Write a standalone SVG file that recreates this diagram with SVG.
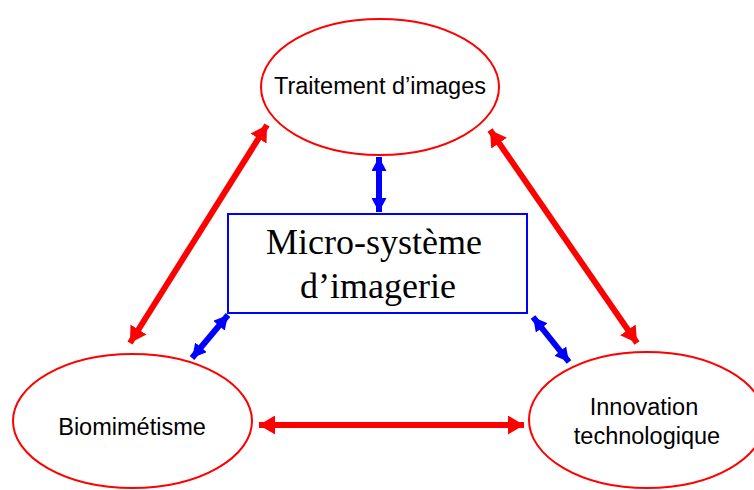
<svg xmlns="http://www.w3.org/2000/svg" width="754" height="490" viewBox="0 0 754 490">
<style>
.ell{fill:#fff;stroke:#f00;stroke-width:2}
.box{fill:#fff;stroke:#00f;stroke-width:2}
.lbl{font-family:"Liberation Sans",Arial,sans-serif;font-size:23.5px;fill:#000;text-anchor:middle}
.big{font-family:"Liberation Serif","Times New Roman",serif;font-size:36px;fill:#000;text-anchor:middle}
.red{stroke:#f00;stroke-width:6;fill:none;marker-start:url(#hr);marker-end:url(#hr)}
.blue{stroke:#00f;stroke-width:6;fill:none;marker-start:url(#hb);marker-end:url(#hb)}
</style>
<defs>
<marker id="hr" markerUnits="userSpaceOnUse" markerWidth="17" markerHeight="19" viewBox="0 0 17 19" refX="16" refY="9.5" orient="auto-start-reverse"><path d="M0,0 L16,9.5 L0,19 Z" fill="#f00"/></marker>
<marker id="hb" markerUnits="userSpaceOnUse" markerWidth="15" markerHeight="15" viewBox="0 0 15 15" refX="14" refY="7.5" orient="auto-start-reverse"><path d="M0,0 L14,7.5 L0,15 Z" fill="#00f"/></marker>
</defs>
<g id="connectors">
<line class="red" x1="130" y1="343" x2="267" y2="125"/>
<line class="red" x1="490" y1="130" x2="637" y2="343"/>
<line class="red" x1="259" y1="425" x2="524" y2="425"/>
<line class="blue" x1="379" y1="157" x2="379" y2="212"/>
<line class="blue" x1="192" y1="358" x2="228" y2="315"/>
<line class="blue" x1="533" y1="317" x2="569" y2="362"/>
</g>
<g id="traitement">
<ellipse class="ell" cx="380" cy="87" rx="119" ry="68"/>
<text class="lbl" x="380" y="94">Traitement d’images</text>
</g>
<g id="microsysteme">
<rect class="box" x="228" y="214" width="299" height="99"/>
<text class="big" x="374" y="254">Micro-système</text>
<text class="big" x="378" y="298">d’imagerie</text>
</g>
<g id="biomimetisme">
<ellipse class="ell" cx="132.5" cy="421" rx="119.5" ry="67"/>
<text class="lbl" x="132" y="435">Biomimétisme</text>
</g>
<g id="innovation">
<ellipse class="ell" cx="647" cy="420" rx="118" ry="68"/>
<text class="lbl" x="644" y="415">Innovation</text>
<text class="lbl" x="647" y="444">technologique</text>
</g>
</svg>
